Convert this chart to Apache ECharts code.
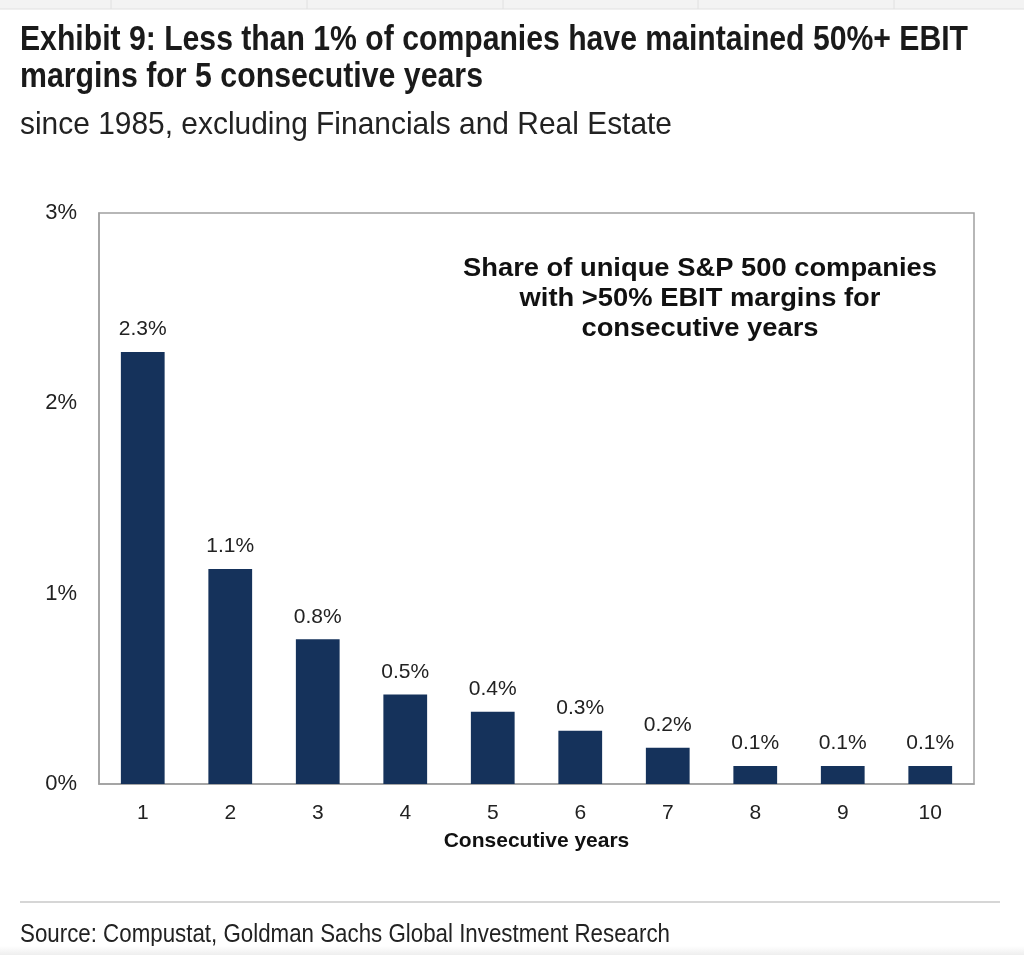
<!DOCTYPE html>
<html><head><meta charset="utf-8">
<script src="https://cdn.jsdelivr.net/npm/echarts@6/dist/echarts.min.js"></script>
<style>html,body{margin:0;padding:0;background:#fff}#c{width:1024px;height:955px}</style>
</head><body><div id="c"></div>
<script>
const categories = ['1','2','3','4','5','6','7','8','9','10'];
const shareValues = [2.27, 1.13, 0.76, 0.47, 0.38, 0.28, 0.19, 0.095, 0.095, 0.095];
const yTicks = [0, 1, 2, 3];

const titleLine1 = 'Exhibit 9: Less than 1% of companies have maintained 50%+ EBIT';
const titleLine2 = 'margins for 5 consecutive years';
const subtitleText = 'since 1985, excluding Financials and Real Estate';
const sourceText = 'Source: Compustat, Goldman Sachs Global Investment Research';
const noteLines = ['Share of unique S&P 500 companies', 'with >50% EBIT margins for', 'consecutive years'];

const cv = document.createElement('canvas').getContext('2d');
function fitScale(text, font, target) {
  cv.font = font;
  return target / cv.measureText(text).width;
}
const TF = 'Liberation Sans';
const tScale1 = fitScale(titleLine1, 'bold 35px "' + TF + '"', 948);
const tScale2 = fitScale(titleLine2, 'bold 35px "' + TF + '"', 463);
const sScale = fitScale(subtitleText, '32px "' + TF + '"', 652);
const srcScale = fitScale(sourceText, '26px "' + TF + '"', 650);
const nScale = fitScale(noteLines[0], 'bold 25px "' + TF + '"', 474);

function condText(x, y, text, size, weight, scale, color) {
  return { type: 'text', x: x, y: y, scaleX: scale, originX: 0, originY: 0,
    style: { x: 0, y: 0, text: text, fontFamily: TF, fontSize: size, fontWeight: weight,
      fill: color, verticalAlign: 'middle', align: 'left' } };
}

const chart = echarts.init(document.getElementById('c'));
chart.setOption({
  animation: false,
  backgroundColor: '#fff',
  graphic: [
    { type: 'rect', shape: { x: 0, y: 0, width: 1024, height: 9 }, style: { fill: '#f3f3f3' } },
    { type: 'line', shape: { x1: 0, y1: 9, x2: 1024, y2: 9 }, style: { stroke: '#e0e0e0', lineWidth: 1 } },
    { type: 'line', shape: { x1: 111, y1: 0, x2: 111, y2: 9 }, style: { stroke: '#e0e0e0', lineWidth: 1 } },
    { type: 'line', shape: { x1: 307, y1: 0, x2: 307, y2: 9 }, style: { stroke: '#e0e0e0', lineWidth: 1 } },
    { type: 'line', shape: { x1: 503, y1: 0, x2: 503, y2: 9 }, style: { stroke: '#e0e0e0', lineWidth: 1 } },
    { type: 'line', shape: { x1: 698, y1: 0, x2: 698, y2: 9 }, style: { stroke: '#e0e0e0', lineWidth: 1 } },
    { type: 'line', shape: { x1: 894, y1: 0, x2: 894, y2: 9 }, style: { stroke: '#e0e0e0', lineWidth: 1 } },
    condText(20, 40, titleLine1, 35, 'bold', tScale1, '#1a1a1a'),
    condText(20, 77, titleLine2, 35, 'bold', tScale2, '#1a1a1a'),
    condText(20, 125, subtitleText, 32, 'normal', sScale, '#222'),
    { type: 'text', x: 700, y: 254, scaleX: nScale, originX: 0, originY: 0,
      style: { x: 0, y: 0, text: noteLines.join('\n'), fontFamily: TF, fontSize: 25, fontWeight: 'bold',
        lineHeight: 30, fill: '#111', align: 'center', verticalAlign: 'top' } },
    { type: 'line', shape: { x1: 20, y1: 902, x2: 1000, y2: 902 }, style: { stroke: '#d6d6d6', lineWidth: 2 } },
    condText(20, 935, sourceText, 26, 'normal', srcScale, '#222'),
    { type: 'rect', shape: { x: 0, y: 946, width: 1024, height: 9 },
      style: { fill: new echarts.graphic.LinearGradient(0, 0, 0, 1, [{ offset: 0, color: '#ffffff' }, { offset: 1, color: '#eeeeee' }]) } }
  ],
  grid: { left: 99, right: 50, top: 213, bottom: 171, show: true, borderColor: '#a0a0a0', borderWidth: 1.5 },
  xAxis: {
    type: 'category', data: categories,
    name: 'Consecutive years', nameLocation: 'middle', nameGap: 47,
    nameTextStyle: { fontFamily: TF, fontWeight: 'bold', fontSize: 21, color: '#111' },
    axisLine: { lineStyle: { color: '#a0a0a0', width: 1.5 } },
    axisTick: { show: false },
    axisLabel: { fontFamily: TF, fontSize: 21, color: '#222', margin: 19 }
  },
  yAxis: {
    type: 'value', min: yTicks[0], max: yTicks[yTicks.length - 1], interval: 1,
    splitLine: { show: false },
    axisLine: { show: true, lineStyle: { color: '#a0a0a0', width: 1.5 } },
    axisTick: { show: false },
    axisLabel: { fontFamily: TF, fontSize: 22, color: '#222', margin: 22, formatter: '{value}%' }
  },
  series: [{
    type: 'bar', data: shareValues, barWidth: '50%',
    itemStyle: { color: '#15325b' },
    label: { show: true, position: 'top', distance: 12, fontFamily: TF, fontSize: 21, color: '#222',
      formatter: p => p.value.toFixed(1) + '%' }
  }]
});
</script></body></html>
